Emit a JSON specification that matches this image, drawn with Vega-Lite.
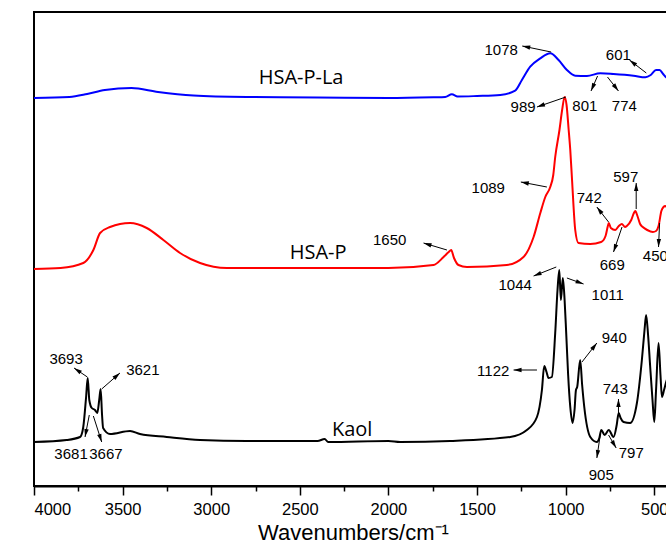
{
  "$schema": "https://vega.github.io/schema/vega-lite/v6.json",
  "width": 638,
  "height": 474,
  "autosize": {"type": "none"},
  "padding": {"left": 34, "top": 12, "right": 0, "bottom": 61},
  "background": "white",
  "config": {"view": {"stroke": "#000", "strokeWidth": 2}, "font": "Liberation Sans"},
  "datasets": {
    "spectra": [
      {"s":"Kaol","wn":4000,"a":0.44},{"s":"Kaol","wn":3816,"a":0.46},{"s":"Kaol","wn":3740,"a":0.49},{"s":"Kaol","wn":3722,"a":0.59},{"s":"Kaol","wn":3706,"a":0.89},{"s":"Kaol","wn":3697,"a":1.08},{"s":"Kaol","wn":3688,"a":0.86},{"s":"Kaol","wn":3674,"a":0.78},{"s":"Kaol","wn":3656,"a":0.76},{"s":"Kaol","wn":3643,"a":0.73},{"s":"Kaol","wn":3632,"a":0.86},{"s":"Kaol","wn":3624,"a":0.97},{"s":"Kaol","wn":3616,"a":0.71},{"s":"Kaol","wn":3610,"a":0.58},{"s":"Kaol","wn":3571,"a":0.52},{"s":"Kaol","wn":3458,"a":0.55},{"s":"Kaol","wn":3402,"a":0.52},{"s":"Kaol","wn":3251,"a":0.49},{"s":"Kaol","wn":3063,"a":0.46},{"s":"Kaol","wn":2800,"a":0.45},{"s":"Kaol","wn":2400,"a":0.45},{"s":"Kaol","wn":2360,"a":0.47},{"s":"Kaol","wn":2340,"a":0.44},{"s":"Kaol","wn":2000,"a":0.45},{"s":"Kaol","wn":1934,"a":0.44},{"s":"Kaol","wn":1652,"a":0.45},{"s":"Kaol","wn":1313,"a":0.49},{"s":"Kaol","wn":1219,"a":0.56},{"s":"Kaol","wn":1162,"a":0.69},{"s":"Kaol","wn":1134,"a":0.96},{"s":"Kaol","wn":1121,"a":1.2},{"s":"Kaol","wn":1108,"a":1.14},{"s":"Kaol","wn":1097,"a":1.08},{"s":"Kaol","wn":1078,"a":1.09},{"s":"Kaol","wn":1059,"a":1.53},{"s":"Kaol","wn":1046,"a":1.96},{"s":"Kaol","wn":1036,"a":2.16},{"s":"Kaol","wn":1027,"a":1.86},{"s":"Kaol","wn":1016,"a":2.08},{"s":"Kaol","wn":1006,"a":1.86},{"s":"Kaol","wn":997,"a":1.53},{"s":"Kaol","wn":986,"a":1.11},{"s":"Kaol","wn":974,"a":0.79},{"s":"Kaol","wn":961,"a":0.63},{"s":"Kaol","wn":950,"a":0.76},{"s":"Kaol","wn":942,"a":0.96},{"s":"Kaol","wn":935,"a":0.99},{"s":"Kaol","wn":918,"a":1.26},{"s":"Kaol","wn":907,"a":1.01},{"s":"Kaol","wn":895,"a":0.79},{"s":"Kaol","wn":861,"a":0.49},{"s":"Kaol","wn":824,"a":0.44},{"s":"Kaol","wn":810,"a":0.48},{"s":"Kaol","wn":799,"a":0.56},{"s":"Kaol","wn":780,"a":0.51},{"s":"Kaol","wn":757,"a":0.56},{"s":"Kaol","wn":730,"a":0.49},{"s":"Kaol","wn":712,"a":0.61},{"s":"Kaol","wn":701,"a":0.73},{"s":"Kaol","wn":690,"a":0.68},{"s":"Kaol","wn":673,"a":0.64},{"s":"Kaol","wn":636,"a":0.63},{"s":"Kaol","wn":598,"a":0.83},{"s":"Kaol","wn":570,"a":1.26},{"s":"Kaol","wn":555,"a":1.56},{"s":"Kaol","wn":546,"a":1.71},{"s":"Kaol","wn":535,"a":1.51},{"s":"Kaol","wn":523,"a":1.19},{"s":"Kaol","wn":510,"a":0.86},{"s":"Kaol","wn":500,"a":0.64},{"s":"Kaol","wn":490,"a":0.96},{"s":"Kaol","wn":476,"a":1.43},{"s":"Kaol","wn":465,"a":1.11},{"s":"Kaol","wn":457,"a":0.89},{"s":"Kaol","wn":445,"a":0.96},{"s":"Kaol","wn":433,"a":1.04},{"s":"Kaol","wn":400,"a":1.16},
      {"s":"HSA-P","wn":4000,"a":2.17},{"s":"HSA-P","wn":3850,"a":2.18},{"s":"HSA-P","wn":3722,"a":2.23},{"s":"HSA-P","wn":3665,"a":2.36},{"s":"HSA-P","wn":3627,"a":2.53},{"s":"HSA-P","wn":3571,"a":2.59},{"s":"HSA-P","wn":3458,"a":2.63},{"s":"HSA-P","wn":3364,"a":2.58},{"s":"HSA-P","wn":3270,"a":2.46},{"s":"HSA-P","wn":3176,"a":2.33},{"s":"HSA-P","wn":3063,"a":2.23},{"s":"HSA-P","wn":2912,"a":2.18},{"s":"HSA-P","wn":2500,"a":2.18},{"s":"HSA-P","wn":2000,"a":2.18},{"s":"HSA-P","wn":1746,"a":2.21},{"s":"HSA-P","wn":1689,"a":2.29},{"s":"HSA-P","wn":1660,"a":2.34},{"s":"HSA-P","wn":1646,"a":2.36},{"s":"HSA-P","wn":1630,"a":2.28},{"s":"HSA-P","wn":1605,"a":2.21},{"s":"HSA-P","wn":1557,"a":2.19},{"s":"HSA-P","wn":1332,"a":2.21},{"s":"HSA-P","wn":1238,"a":2.29},{"s":"HSA-P","wn":1181,"a":2.49},{"s":"HSA-P","wn":1143,"a":2.73},{"s":"HSA-P","wn":1115,"a":2.89},{"s":"HSA-P","wn":1087,"a":2.99},{"s":"HSA-P","wn":1070,"a":3.11},{"s":"HSA-P","wn":1059,"a":3.29},{"s":"HSA-P","wn":1035,"a":3.56},{"s":"HSA-P","wn":1020,"a":3.76},{"s":"HSA-P","wn":1006,"a":3.89},{"s":"HSA-P","wn":995,"a":3.81},{"s":"HSA-P","wn":983,"a":3.56},{"s":"HSA-P","wn":974,"a":3.36},{"s":"HSA-P","wn":964,"a":3.06},{"s":"HSA-P","wn":946,"a":2.56},{"s":"HSA-P","wn":928,"a":2.43},{"s":"HSA-P","wn":861,"a":2.42},{"s":"HSA-P","wn":800,"a":2.44},{"s":"HSA-P","wn":775,"a":2.5},{"s":"HSA-P","wn":762,"a":2.6},{"s":"HSA-P","wn":757,"a":2.63},{"s":"HSA-P","wn":745,"a":2.58},{"s":"HSA-P","wn":720,"a":2.56},{"s":"HSA-P","wn":700,"a":2.6},{"s":"HSA-P","wn":683,"a":2.62},{"s":"HSA-P","wn":665,"a":2.59},{"s":"HSA-P","wn":655,"a":2.6},{"s":"HSA-P","wn":630,"a":2.66},{"s":"HSA-P","wn":615,"a":2.73},{"s":"HSA-P","wn":607,"a":2.75},{"s":"HSA-P","wn":595,"a":2.7},{"s":"HSA-P","wn":580,"a":2.62},{"s":"HSA-P","wn":565,"a":2.59},{"s":"HSA-P","wn":540,"a":2.56},{"s":"HSA-P","wn":508,"a":2.54},{"s":"HSA-P","wn":490,"a":2.55},{"s":"HSA-P","wn":476,"a":2.6},{"s":"HSA-P","wn":460,"a":2.75},{"s":"HSA-P","wn":448,"a":2.79},{"s":"HSA-P","wn":438,"a":2.8},{"s":"HSA-P","wn":420,"a":2.74},{"s":"HSA-P","wn":400,"a":2.6},
      {"s":"HSA-P-La","wn":4000,"a":3.88},{"s":"HSA-P-La","wn":3800,"a":3.89},{"s":"HSA-P-La","wn":3700,"a":3.92},{"s":"HSA-P-La","wn":3600,"a":3.96},{"s":"HSA-P-La","wn":3450,"a":3.98},{"s":"HSA-P-La","wn":3300,"a":3.94},{"s":"HSA-P-La","wn":3100,"a":3.905},{"s":"HSA-P-La","wn":2800,"a":3.89},{"s":"HSA-P-La","wn":2400,"a":3.885},{"s":"HSA-P-La","wn":2000,"a":3.88},{"s":"HSA-P-La","wn":1746,"a":3.887},{"s":"HSA-P-La","wn":1680,"a":3.89},{"s":"HSA-P-La","wn":1642,"a":3.917},{"s":"HSA-P-La","wn":1610,"a":3.895},{"s":"HSA-P-La","wn":1500,"a":3.9},{"s":"HSA-P-La","wn":1369,"a":3.91},{"s":"HSA-P-La","wn":1285,"a":3.953},{"s":"HSA-P-La","wn":1247,"a":4.06},{"s":"HSA-P-La","wn":1200,"a":4.193},{"s":"HSA-P-La","wn":1143,"a":4.277},{"s":"HSA-P-La","wn":1087,"a":4.327},{"s":"HSA-P-La","wn":1040,"a":4.26},{"s":"HSA-P-La","wn":993,"a":4.16},{"s":"HSA-P-La","wn":946,"a":4.103},{"s":"HSA-P-La","wn":880,"a":4.1},{"s":"HSA-P-La","wn":805,"a":4.127},{"s":"HSA-P-La","wn":730,"a":4.12},{"s":"HSA-P-La","wn":617,"a":4.103},{"s":"HSA-P-La","wn":550,"a":4.087},{"s":"HSA-P-La","wn":520,"a":4.11},{"s":"HSA-P-La","wn":490,"a":4.16},{"s":"HSA-P-La","wn":470,"a":4.16},{"s":"HSA-P-La","wn":450,"a":4.12},{"s":"HSA-P-La","wn":433,"a":4.087},{"s":"HSA-P-La","wn":400,"a":4.06}
    ],
    "notes": [
      {"label":"1078","tx":1364,"ty":4.36,"x1":1082,"y1":4.34,"x2":1245,"y2":4.40},
      {"label":"601","tx":703,"ty":4.31,"x1":545,"y1":4.13,"x2":640,"y2":4.26},
      {"label":"801","tx":892,"ty":3.80,"x1":820,"y1":4.10,"x2":857,"y2":3.95},
      {"label":"774","tx":669,"ty":3.80,"x1":764,"y1":4.09,"x2":702,"y2":3.95},
      {"label":"989","tx":1240,"ty":3.79,"x1":999,"y1":3.89,"x2":1162,"y2":3.79},
      {"label":"1650","tx":1993,"ty":2.46,"x1":1670,"y1":2.36,"x2":1802,"y2":2.43},
      {"label":"1089","tx":1437,"ty":2.98,"x1":1106,"y1":2.99,"x2":1253,"y2":3.04},
      {"label":"742","tx":867,"ty":2.88,"x1":758,"y1":2.64,"x2":824,"y2":2.79},
      {"label":"597","tx":661,"ty":3.09,"x1":602,"y1":2.77,"x2":602,"y2":3.03},
      {"label":"669","tx":737,"ty":2.21,"x1":682,"y1":2.59,"x2":730,"y2":2.34},
      {"label":"450","tx":494,"ty":2.30,"x1":470,"y1":2.63,"x2":476,"y2":2.39},
      {"label":"1044","tx":1285,"ty":2.01,"x1":1053,"y1":2.19,"x2":1181,"y2":2.10},
      {"label":"1011","tx":763,"ty":1.91,"x1":993,"y1":2.08,"x2":899,"y2":2.02},
      {"label":"1122","tx":1409,"ty":1.15,"x1":1162,"y1":1.16,"x2":1294,"y2":1.16},
      {"label":"940","tx":726,"ty":1.48,"x1":908,"y1":1.24,"x2":824,"y2":1.43},
      {"label":"743","tx":720,"ty":0.97,"x1":702,"y1":0.73,"x2":702,"y2":0.87},
      {"label":"797","tx":630,"ty":0.33,"x1":758,"y1":0.51,"x2":715,"y2":0.38},
      {"label":"905","tx":799,"ty":0.11,"x1":805,"y1":0.51,"x2":824,"y2":0.28},
      {"label":"3693","tx":3819,"ty":1.27,"x1":3699,"y1":1.09,"x2":3774,"y2":1.18},
      {"label":"3621","tx":3386,"ty":1.16,"x1":3618,"y1":0.97,"x2":3515,"y2":1.13},
      {"label":"3681","tx":3791,"ty":0.32,"x1":3688,"y1":0.71,"x2":3712,"y2":0.49},
      {"label":"3667","tx":3594,"ty":0.32,"x1":3665,"y1":0.70,"x2":3618,"y2":0.44}
    ],
    "names": [
      {"name":"HSA-P-La","wn":2493,"a":4.08},
      {"name":"HSA-P","wn":2397,"a":2.33},
      {"name":"Kaol","wn":2205,"a":0.56}
    ]
  },
  "resolve": {"axis": {"x": "independent"}},
  "layer": [
    {
      "data": {"name": "spectra"},
      "mark": {"type": "line", "strokeWidth": 2, "clip": true, "interpolate": "monotone"},
      "encoding": {
        "x": {"field": "wn", "type": "quantitative",
          "scale": {"domain": [400, 4000], "reverse": true, "nice": false, "zero": false},
          "axis": {"orient": "bottom", "values": [4000, 3500, 3000, 2500, 2000, 1500, 1000, 500],
            "format": "d", "grid": false, "domainColor": "#000", "domainWidth": 2,
            "tickColor": "#000", "tickSize": 9, "tickWidth": 1.5, "labelPadding": 6,
            "labelFontSize": 16.5, "labelColor": "#000", "labelFont": "Liberation Sans",
            "title": "Wavenumbers/cm⁻¹", "titleFontSize": 22, "titleFontWeight": "normal",
            "titleFont": "Liberation Sans", "titleColor": "#000", "titlePadding": 5}},
        "y": {"field": "a", "type": "quantitative",
          "scale": {"domain": [0, 4.74], "nice": false, "zero": false}, "axis": null},
        "color": {"field": "s", "type": "nominal",
          "scale": {"domain": ["Kaol", "HSA-P", "HSA-P-La"], "range": ["#000000", "#ff0000", "#0000ff"]},
          "legend": null},
        "detail": {"field": "s"}
      }
    },
    {
      "data": {"name": "notes"},
      "mark": {"type": "rule", "color": "#000", "strokeWidth": 1},
      "encoding": {
        "x": {"field": "x1", "type": "quantitative",
          "axis": {"orient": "bottom", "values": [3750, 3250, 2750, 2250, 1750, 1250, 750],
            "labels": false, "domain": false, "grid": false, "tickSize": 5, "tickWidth": 1.5,
            "tickColor": "#000", "title": null}},
        "y": {"field": "y1", "type": "quantitative"},
        "x2": {"field": "x2"},
        "y2": {"field": "y2"}
      }
    },
    {
      "data": {"name": "notes"},
      "transform": [
        {"calculate": "atan2(-(datum.x2 - datum.x1) * 0.177222, (datum.y2 - datum.y1) * 100) * 180 / PI", "as": "ang"}
      ],
      "mark": {"type": "point", "shape": "M0,0L0.55,2L-0.55,2Z", "filled": true, "color": "#000", "opacity": 1, "size": 64, "strokeWidth": 0},
      "encoding": {
        "x": {"field": "x2", "type": "quantitative", "axis": null},
        "y": {"field": "y2", "type": "quantitative"},
        "angle": {"field": "ang", "type": "quantitative", "scale": null}
      }
    },
    {
      "data": {"name": "notes"},
      "mark": {"type": "text", "fontSize": 15, "font": "Liberation Sans", "color": "#000", "baseline": "middle", "align": "center"},
      "encoding": {
        "x": {"field": "tx", "type": "quantitative", "axis": null},
        "y": {"field": "ty", "type": "quantitative"},
        "text": {"field": "label"}
      }
    },
    {
      "data": {"name": "names"},
      "mark": {"type": "text", "fontSize": 20, "font": "Open Sans", "color": "#000", "baseline": "middle", "align": "center"},
      "encoding": {
        "x": {"field": "wn", "type": "quantitative", "axis": null},
        "y": {"field": "a", "type": "quantitative"},
        "text": {"field": "name"}
      }
    }
  ]
}
